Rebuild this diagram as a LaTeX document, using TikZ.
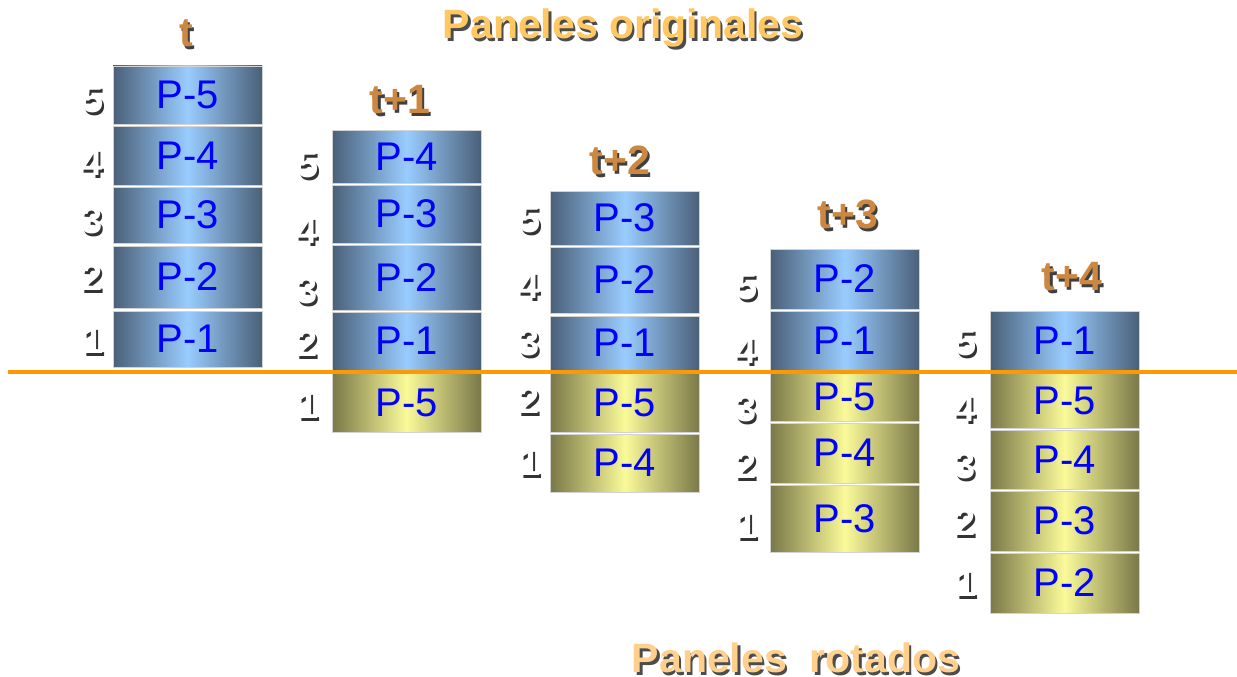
\documentclass[tikz,border=0pt]{standalone}
\usepackage{fontspec}
\setmainfont{Liberation Sans}
\begin{document}
\begin{tikzpicture}[x=1pt,y=-1pt]
\definecolor{bDark}{HTML}{4A6078}
\definecolor{bLight}{HTML}{99CCFF}
\definecolor{yDark}{HTML}{7A7848}
\definecolor{yLight}{HTML}{FAFA9A}
\definecolor{pText}{HTML}{0000FF}
\definecolor{labCol}{HTML}{CC8840}
\definecolor{titCol}{HTML}{FFC862}
\definecolor{titColB}{HTML}{FFD08C}
\definecolor{lineCol}{HTML}{FF9900}
\tikzset{
  panel/.style={rectangle, inner sep=0pt, minimum width=149pt, draw=gray!35, line width=0.6pt,
    text=pText, font=\fontsize{40}{40}\selectfont},
  bluepanel/.style={panel, left color=bDark, right color=bDark, middle color=bLight},
  yelpanel/.style={panel, left color=yDark, right color=yDark, middle color=yLight},
  numtext/.style={inner sep=0pt, text=white, font=\fontsize{38}{38}\selectfont\bfseries},
  numshadow/.style={inner sep=0pt, text=black!80, font=\fontsize{38}{38}\selectfont\bfseries},
  labtext/.style={inner sep=0pt, text=labCol, font=\fontsize{41}{41}\selectfont\bfseries},
  labshadow/.style={inner sep=0pt, text=black!75, font=\fontsize{41}{41}\selectfont\bfseries},
  tittext/.style={inner sep=0pt, font=\fontsize{41}{41}\selectfont\bfseries},
  titshadow/.style={inner sep=0pt, text=black!70, font=\fontsize{41}{41}\selectfont\bfseries},
  sepline/.style={draw=lineCol, line width=4pt}
}
\newcommand\pnl[6]{% name, style, xcenter, top, bottom, text
  \node[#2, minimum height={#5-#4}] (#1) at (#3,{(#4+#5)/2}) {#6};}
\newcommand\numl[4]{% name, x, y, text
  \node[numshadow] (#1s) at ({#2+2.5},{#3+3}) {#4};
  \node[numtext] (#1) at (#2,#3) {#4};}
\newcommand\labl[4]{%
  \node[labshadow] (#1s) at ({#2+2.5},{#3+3}) {#4};
  \node[labtext] (#1) at (#2,#3) {#4};}
\path[use as bounding box] (0,0) rectangle (1237,677);
% column t
\pnl{a5}{bluepanel}{187.5}{66}{124}{P-5}
\pnl{a4}{bluepanel}{187.5}{126}{185}{P-4}
\pnl{a3}{bluepanel}{187.5}{187}{243}{P-3}
\pnl{a2}{bluepanel}{187.5}{246}{308}{P-2}
\pnl{a1}{bluepanel}{187.5}{311}{367}{P-1}
% column t+1
\pnl{b5}{bluepanel}{406.5}{130}{183}{P-4}
\pnl{b4}{bluepanel}{406.5}{185}{243}{P-3}
\pnl{b3}{bluepanel}{406.5}{245}{310}{P-2}
\pnl{b2}{bluepanel}{406.5}{312}{370}{P-1}
\pnl{b1}{yelpanel}{406.5}{373}{432}{P-5}
% column t+2
\pnl{c5}{bluepanel}{625}{191}{245}{P-3}
\pnl{c4}{bluepanel}{625}{247}{313}{P-2}
\pnl{c3}{bluepanel}{625}{316}{370}{P-1}
\pnl{c2}{yelpanel}{625}{373}{432}{P-5}
\pnl{c1}{yelpanel}{625}{434}{492}{P-4}
% column t+3
\pnl{d5}{bluepanel}{845}{249}{309}{P-2}
\pnl{d4}{bluepanel}{845}{311}{370}{P-1}
\pnl{d3}{yelpanel}{845}{373}{421}{P-5}
\pnl{d2}{yelpanel}{845}{423}{483}{P-4}
\pnl{d1}{yelpanel}{845}{485}{552}{P-3}
% column t+4
\pnl{e5}{bluepanel}{1064.5}{311}{370}{P-1}
\pnl{e4}{yelpanel}{1064.5}{373}{428}{P-5}
\pnl{e3}{yelpanel}{1064.5}{430}{489}{P-4}
\pnl{e2}{yelpanel}{1064.5}{491}{551}{P-3}
\pnl{e1}{yelpanel}{1064.5}{553}{613}{P-2}
% numbers
\numl{na5}{93}{100}{5}\numl{na4}{92}{162}{4}\numl{na3}{92}{220}{3}\numl{na2}{92}{277}{2}\numl{na1}{93}{340}{1}
\numl{nb5}{308}{165}{5}\numl{nb4}{307}{230}{4}\numl{nb3}{307}{290}{3}\numl{nb2}{307}{343}{2}\numl{nb1}{308}{405}{1}
\numl{nc5}{530}{220}{5}\numl{nc4}{529}{285}{4}\numl{nc3}{529}{342}{3}\numl{nc2}{529}{400}{2}\numl{nc1}{530}{462}{1}
\numl{nd5}{747}{287}{5}\numl{nd4}{746}{350}{4}\numl{nd3}{746}{408}{3}\numl{nd2}{746}{465}{2}\numl{nd1}{747}{525}{1}
\numl{ne5}{966}{343}{5}\numl{ne4}{965}{408}{4}\numl{ne3}{965}{465}{3}\numl{ne2}{965}{522}{2}\numl{ne1}{966}{583}{1}
% column labels
\labl{la}{186}{33}{t}
\labl{lb}{400}{100}{t+1}
\labl{lc}{620}{160}{t+2}
\labl{ld}{848}{214}{t+3}
\labl{le}{1072}{277}{t+4}
% separator
\coordinate (sl) at (8,372);
\coordinate (sr) at (1237,372);
\draw[sepline] (sl) -- (sr);
% titles
\node[titshadow] (t1s) at (625.5,31) {Paneles originales};
\node[tittext, text=titCol] (t1) at (623,28) {Paneles originales};
\node[titshadow] (t2s) at (798.5,661) {Paneles\ \ rotados};
\node[tittext, text=titColB] (t2) at (796,658) {Paneles\ \ rotados};
\end{tikzpicture}
\end{document}
